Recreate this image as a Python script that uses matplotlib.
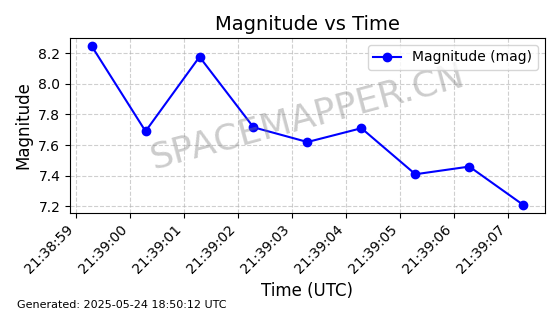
import matplotlib
matplotlib.use('Agg')
import matplotlib.pyplot as plt
import matplotlib.dates as mdates
from datetime import datetime, timedelta

# observation data
start = datetime(2025, 5, 23, 21, 38, 59, 280000)
offsets = [0, 1, 2, 3, 4, 5, 6, 7, 8]  # seconds after start
magnitudes = [8.246, 7.69, 8.175, 7.716, 7.62, 7.71, 7.41, 7.46, 7.21]
times = [start + timedelta(seconds=s) for s in offsets]

fig, ax = plt.subplots(figsize=(5.6, 3.14), dpi=100)
fig.subplots_adjust(left=0.125, right=0.973, top=0.879, bottom=0.322)

ax.plot(times, magnitudes, marker='o', color='blue', label='Magnitude (mag)')
ax.set_title('Magnitude vs Time', fontsize=14)
ax.set_xlabel('Time (UTC)', fontsize=12)
ax.set_ylabel('Magnitude', fontsize=12)
ax.grid(True, linestyle='--', alpha=0.6)
ax.legend(loc='upper right')

ax.xaxis.set_major_locator(mdates.SecondLocator())
ax.xaxis.set_major_formatter(mdates.DateFormatter('%H:%M:%S'))
plt.setp(ax.get_xticklabels(), rotation=45, ha='right')

# watermark
ax.text(0.5, 0.55, 'SPACEMAPPER.CN', transform=ax.transAxes, fontsize=26,
        color='gray', alpha=0.4, rotation=15, ha='center', va='center')

fig.text(0.03, 0.02, 'Generated: 2025-05-24 18:50:12 UTC', fontsize=8)

fig.savefig('out.png', dpi=100)
